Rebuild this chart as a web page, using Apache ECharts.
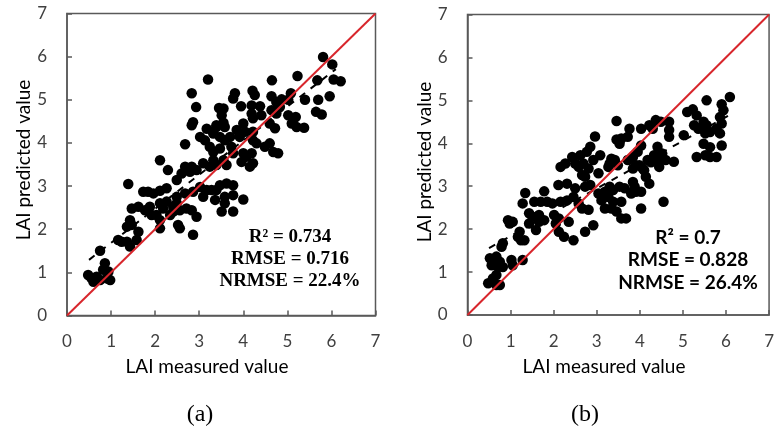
<!DOCTYPE html>
<html><head><meta charset="utf-8">
<script src="https://cdn.jsdelivr.net/npm/echarts@6/dist/echarts.min.js"></script>
<style>html,body{margin:0;padding:0;background:#fff}#c{width:777px;height:437px}</style>
</head><body><div id="c"></div>
<script>
// Panel (a): measured vs predicted LAI
var measuredA = [3.20,2.83,2.93,2.86,2.83,3.17,3.39,3.31,3.02,3.13,2.68,3.45,2.11,2.29,2.68,2.83,3.09,3.24,3.39,
 5.81,6.02,6.05,6.21,5.68,5.23,4.65,5.96,5.70,5.40,5.08,5.02,4.87,4.75,4.64,4.21,4.26,3.81,3.77,3.95,3.55,3.51,
 4.19,4.38,4.19,4.22,4.64,4.75,4.83,5.02,5.19,5.10,5.21,5.38,5.65,5.78,4.41,4.00,4.04,3.55,3.58,3.39,3.32,3.47,3.58,
 3.85,3.92,4.22,4.22,4.30,4.60,4.72,3.24,3.32,3.47,3.70,3.73,3.77,4.00,4.07,4.19,4.22,4.49,4.60,4.68,4.79,3.55,3.62,
 3.96,4.15,3.47,3.62,3.77,3.39,3.28,3.36,3.58,3.77,4.00,3.58,3.51,3.77,2.49,2.60,2.79,2.94,3.32,1.39,1.73,1.84,1.96,
 2.11,2.26,2.49,2.68,2.86,3.02,3.17,3.09,1.47,1.62,1.77,1.88,1.92,2.11,2.18,2.26,2.41,2.49,2.03,2.11,2.34,2.41,2.56,
 2.71,2.83,2.94,1.43,1.36,1.47,2.11,2.52,2.56,2.86,1.62,1.58,1.16,1.24,1.36,1.43,0.75,0.86,0.82,0.94,0.48,0.56,0.67,
 0.75,0.60,0.90,0.98];
var predictedA = [5.47,5.15,4.83,4.48,4.41,4.33,4.41,4.26,4.14,4.06,3.97,4.81,3.60,3.37,3.45,3.45,3.53,3.45,3.49,
 5.99,5.82,5.47,5.43,5.45,5.55,5.45,5.08,5.00,5.00,5.15,5.00,5.01,4.95,5.08,5.21,5.11,5.15,5.03,4.85,4.80,4.64,
 4.87,4.85,4.68,4.57,4.76,4.68,4.84,4.64,4.60,4.45,4.37,4.35,4.72,4.66,4.64,4.45,4.26,4.47,4.37,4.37,4.22,4.14,4.06,
 4.30,4.14,4.26,4.06,3.99,4.45,4.34,3.91,3.79,3.87,4.14,3.91,3.76,3.76,3.68,3.76,3.53,3.91,3.99,3.79,3.76,3.60,3.49,
 3.56,3.45,3.02,3.06,3.02,2.91,2.91,2.68,2.75,2.79,2.69,2.60,2.41,2.41,3.14,3.29,3.33,3.37,3.60,3.05,2.87,2.87,2.83,
 2.89,2.95,2.75,2.83,2.87,2.98,2.91,2.75,2.48,2.52,2.44,2.52,2.33,2.60,2.48,2.64,2.52,2.60,2.33,2.21,2.33,2.41,2.44,
 2.48,2.44,2.29,2.21,2.06,2.10,2.02,2.10,2.02,1.87,1.94,1.75,1.75,1.71,1.71,1.60,1.50,1.21,1.06,1.02,0.94,0.86,0.90,
 0.82,0.78,0.86,0.82];

// Panel (b)
var measuredB = [3.46,2.96,3.46,2.85,2.77,3.08,2.92,2.43,2.62,2.69,2.50,2.27,2.16,3.30,3.42,6.09,5.55,5.90,5.94,5.10,
 5.23,5.32,5.26,5.48,5.86,5.90,5.86,5.78,5.55,5.63,5.52,5.48,5.63,5.52,5.32,5.63,5.78,5.90,5.02,5.36,4.37,4.49,4.22,
 4.30,4.68,4.68,4.03,3.76,3.57,3.72,3.53,4.03,3.95,3.84,4.41,4.52,4.33,4.60,4.79,4.41,4.18,4.45,4.68,3.34,3.27,3.49,
 3.72,3.99,4.07,3.84,3.91,4.26,4.10,4.14,4.22,3.84,3.88,3.80,3.91,4.03,3.65,3.53,3.38,3.30,3.27,3.38,3.57,3.34,3.46,
 3.57,3.68,4.03,4.55,2.58,2.81,2.66,2.73,3.04,2.11,2.31,2.50,2.73,2.85,3.04,3.19,1.34,1.78,1.28,1.55,1.70,1.85,1.97,
 2.16,2.31,2.46,2.58,2.66,2.81,3.11,3.19,1.43,1.51,1.66,1.43,1.66,1.78,1.59,2.01,2.12,2.05,0.94,1.05,0.98,1.21,1.32,
 1.17,1.24,2.12,2.24,2.46,2.73,2.92,2.35,0.82,0.79,0.52,0.59,0.67,0.75,0.56,0.71,0.82,1.02,1.05,1.28,0.67,0.59,0.48,
 0.67,0.75];
var predictedB = [4.52,4.16,4.09,3.92,3.80,3.72,3.61,3.68,3.72,3.53,3.53,3.53,3.45,3.53,3.61,5.08,5.00,4.91,4.77,4.73,
 4.79,4.65,4.42,4.50,4.61,4.46,4.23,4.34,4.42,4.26,4.23,3.99,3.91,3.72,3.68,3.68,3.68,3.95,4.19,4.34,4.54,4.50,4.42,
 4.34,4.50,4.31,4.34,4.34,4.11,4.15,3.99,3.95,3.80,3.68,3.92,3.76,3.72,3.61,3.57,3.61,3.61,3.45,4.15,3.64,3.45,3.49,
 3.61,3.49,3.41,3.41,3.49,3.56,3.37,3.22,3.06,3.10,2.99,2.83,2.87,2.87,2.95,2.99,2.91,2.99,2.75,2.64,2.64,2.48,2.41,
 2.25,2.25,2.48,2.64,3.45,3.41,3.26,3.22,3.30,3.03,3.06,2.95,2.99,3.03,2.83,2.87,2.84,2.88,2.60,2.64,2.64,2.64,2.60,
 2.64,2.67,2.75,2.60,2.48,2.45,2.67,2.48,2.37,2.29,2.33,2.13,2.17,2.21,1.98,2.33,2.25,2.13,2.21,2.17,2.13,1.94,1.74,
 1.82,1.74,1.94,1.82,1.74,1.94,2.09,2.17,1.67,1.59,1.32,1.28,1.36,1.24,1.16,1.12,1.12,1.28,1.16,1.28,0.93,0.85,0.74,
 0.70,0.70];

// Reference 1:1 line and fitted trend lines (end points in data units)
var oneToOne = [0, 7];
var fitAx = [0.5, 6.1], fitAy = [1.29, 5.71];
var fitBx = [0.5, 6.05], fitBy = [1.56, 4.64];
var axisTicks = [0, 1, 2, 3, 4, 5, 6, 7];

var statsA = ['R\u00B2 = 0.734', 'RMSE = 0.716', 'NRMSE = 22.4%'];
var statsB = ['R\u00B2 = 0.7', 'RMSE = 0.828', 'NRMSE = 26.4%'];
var xTitle = 'LAI measured value', yTitle = 'LAI predicted value';
var panelLabels = ['(a)', '(b)'];

function pairs(xs, ys) { return xs.map(function (x, i) { return [x, ys[i]]; }); }

var sans = 'Lato, "Open Sans", sans-serif';
var frame = '#595959';
function xAxis(idx) {
  return { gridIndex: idx, type: 'value', min: 0, max: 7, interval: 1,
    axisLine: { show: true, onZero: false, lineStyle: { color: frame, width: 1.5 } },
    axisTick: { show: true, inside: true, length: 5, lineStyle: { color: frame, width: 1.5 } },
    splitLine: { show: false },
    axisLabel: { margin: 18, color: '#404040', fontSize: 17, fontFamily: sans } };
}
function yAxis(idx) {
  return { gridIndex: idx, type: 'value', min: 0, max: 7, interval: 1,
    axisLine: { show: true, onZero: false, lineStyle: { color: frame, width: 1.5 } },
    axisTick: { show: true, inside: true, length: 5, lineStyle: { color: frame, width: 1.5 } },
    splitLine: { show: false },
    axisLabel: { margin: 20, color: '#404040', fontSize: 17, fontFamily: sans } };
}
function scatter(idx, xs, ys) {
  return { type: 'scatter', xAxisIndex: idx, yAxisIndex: idx, data: pairs(xs, ys), symbol: 'circle',
    symbolSize: 10.5, itemStyle: { color: '#000', opacity: 1 }, silent: true, z: 3 };
}
function line(idx, xs, ys, color, type, w, z) {
  return { type: 'line', xAxisIndex: idx, yAxisIndex: idx, data: pairs(xs, ys), symbol: 'none',
    lineStyle: { color: color, width: w, type: type }, silent: true, z: z };
}
function txt(x, y, s, font, size, weight, rot) {
  return { type: 'text', x: x, y: y, rotation: rot || 0,
    style: { text: s, fill: '#000', font: weight + ' ' + size + 'px ' + font, align: 'center', verticalAlign: 'middle' } };
}

var chart = echarts.init(document.getElementById('c'), null, { renderer: 'canvas' });
var serif = '"Liberation Serif", "Times New Roman", serif';
chart.setOption({
  animation: false,
  backgroundColor: '#fff',
  grid: [
    { left: 67, top: 13.5, width: 308.5, height: 302, show: true, borderColor: frame, borderWidth: 1.5, backgroundColor: 'transparent' },
    { left: 467.5, top: 14.5, width: 305.5, height: 300.5, show: true, borderColor: frame, borderWidth: 1.5, backgroundColor: 'transparent' }
  ],
  xAxis: [xAxis(0), xAxis(1)],
  yAxis: [yAxis(0), yAxis(1)],
  series: [
    scatter(0, measuredA, predictedA),
    line(0, fitAx, fitAy, '#000', [7, 7], 2, 4),
    line(0, oneToOne, oneToOne, '#d8262c', 'solid', 2, 5),
    scatter(1, measuredB, predictedB),
    line(1, fitBx, fitBy, '#000', [7, 7], 2, 4),
    line(1, oneToOne, oneToOne, '#d8262c', 'solid', 2, 5)
  ],
  graphic: [
    txt(290, 237, statsA[0], serif, 19, 'bold'),
    txt(290, 259, statsA[1], serif, 19, 'bold'),
    txt(290, 281, statsA[2], serif, 19, 'bold'),
    txt(688, 238, statsB[0], sans, 19, 'bold'),
    txt(688, 260, statsB[1], sans, 19, 'bold'),
    txt(688, 283, statsB[2], sans, 19, 'bold'),
    txt(207, 367, xTitle, sans, 19, 'normal'),
    txt(604, 367, xTitle, sans, 19, 'normal'),
    txt(24, 160, yTitle, sans, 19, 'normal', Math.PI / 2),
    txt(425, 162, yTitle, sans, 19, 'normal', Math.PI / 2),
    txt(200, 415, panelLabels[0], serif, 24, 'normal'),
    txt(585, 415, panelLabels[1], serif, 24, 'normal')
  ]
});
</script></body></html>
